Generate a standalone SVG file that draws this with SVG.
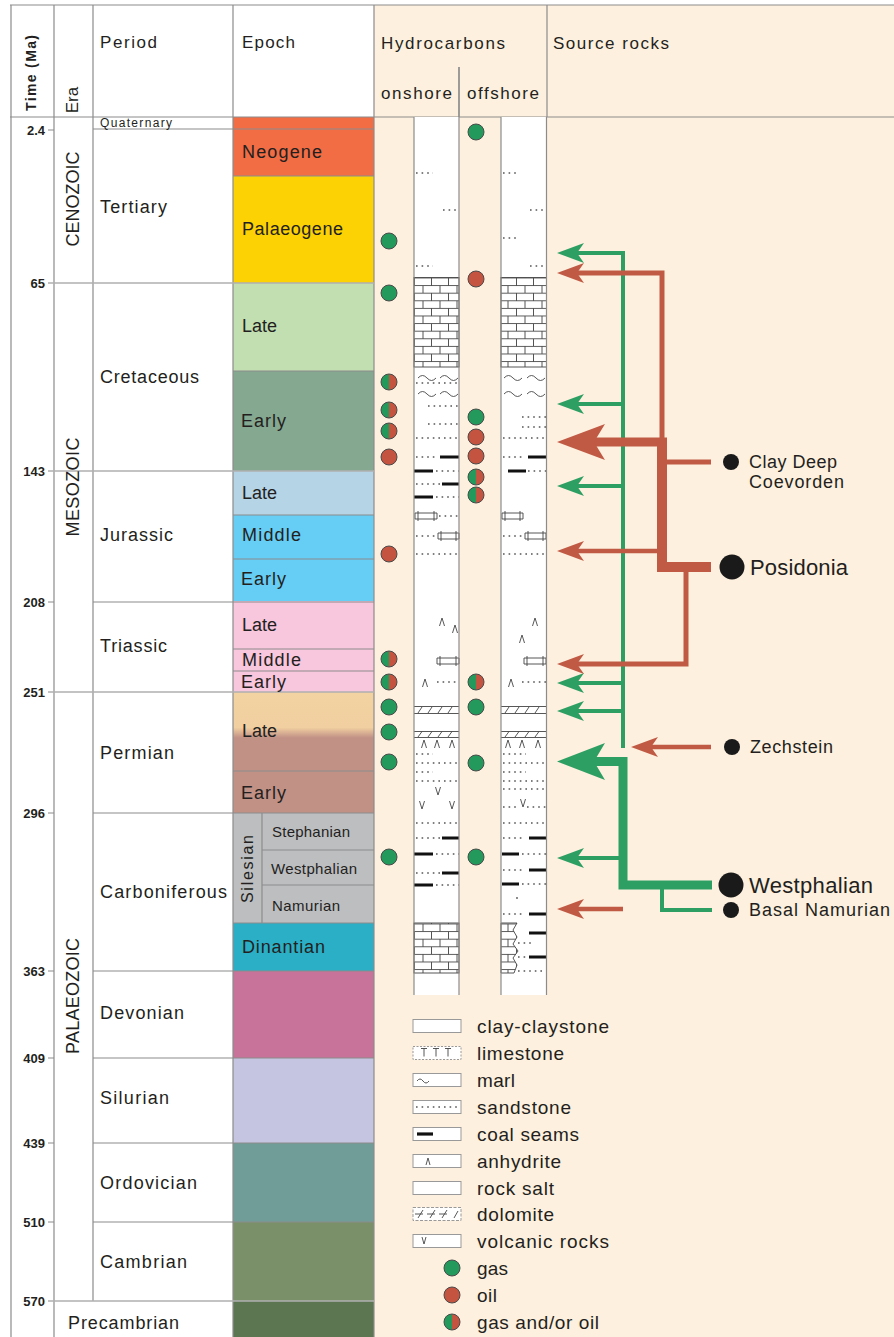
<svg xmlns="http://www.w3.org/2000/svg" width="894" height="1337" viewBox="0 0 894 1337">
<style>
text{font-family:"Liberation Sans",Arial,sans-serif;fill:#231f20}
.hd{font-size:17px}
.per{font-size:18px}
.ep{font-size:18px}
.sm{font-size:15px}
.tk{font-size:13px;font-weight:bold}
.era{font-size:18px}
.lg{font-size:19px}
.src{font-size:18px}
.srcb{font-size:22px}
.gl{stroke:#8c8c8c;stroke-width:1.2;fill:none}
.gl2{stroke:#b0b0b0;stroke-width:1.6;fill:none}
.sd{stroke:#555;stroke-width:1.6;stroke-dasharray:1.6 4;fill:none}
.coal{stroke:#111;stroke-width:3.2;fill:none}
.sym{stroke:#444;stroke-width:0.9;fill:none}
.gas{fill:#23995c;stroke:#4a4a4a;stroke-width:1}
.oil{fill:#c4533f;stroke:#4a4a4a;stroke-width:1}
.gn{stroke:#2e9f62;fill:none}
.rd{stroke:#c05a45;fill:none}
.gnh{fill:#2e9f62}
.rdh{fill:#c05a45}
.lgb{fill:#fff;stroke:#999;stroke-width:1}
.src-dot{fill:#1a1a1a}
</style>
<defs>
<pattern id="brick" patternUnits="userSpaceOnUse" x="414" y="277.5" width="17" height="15.2">
<rect width="17" height="15.2" fill="#fff"/>
<path d="M0,0.5H17M0,8.1H17M0.5,0.5V8.1M9,8.1V15.2" stroke="#444" stroke-width="0.9" fill="none"/>
</pattern>
<linearGradient id="perm" x1="0" y1="0" x2="0" y2="1">
<stop offset="0" stop-color="#f3d3a2"/>
<stop offset="0.45" stop-color="#f1cfa0"/>
<stop offset="0.58" stop-color="#c19186"/>
<stop offset="1" stop-color="#c19186"/>
</linearGradient>
<g id="dg"><circle r="8" class="gas"/></g>
<g id="do"><circle r="8" class="oil"/></g>
<g id="dm"><path d="M0,-8A8,8 0 0 0 0,8Z" fill="#23995c"/><path d="M0,-8A8,8 0 0 1 0,8Z" fill="#c4533f"/><circle r="8" fill="none" stroke="#4a4a4a" stroke-width="1"/></g>
</defs>

<rect x="0" y="0" width="894" height="1337" fill="#fff"/>
<rect x="374" y="5" width="520" height="1332" fill="#fdf0de"/>

<!-- Epoch colour bands -->
<g id="epoch-bands">
<rect x="233" y="117" width="141" height="59" fill="#f26c44"/>
<rect x="233" y="176" width="141" height="107" fill="#fcd205"/>
<rect x="233" y="283" width="141" height="88" fill="#c2dfb2"/>
<rect x="233" y="371" width="141" height="100" fill="#85a891"/>
<rect x="233" y="471" width="141" height="44" fill="#b5d4e6"/>
<rect x="233" y="515" width="141" height="86" fill="#66cdf4"/>
<rect x="233" y="601" width="141" height="91" fill="#f8c6dd"/>
<rect x="233" y="692" width="141" height="79" fill="url(#perm)"/>
<rect x="233" y="771" width="141" height="42" fill="#c19186"/>
<rect x="233" y="813" width="141" height="110" fill="#bdbec0"/>
<rect x="233" y="923" width="141" height="48" fill="#2aafc7"/>
<rect x="233" y="971" width="141" height="87" fill="#c87399"/>
<rect x="233" y="1058" width="141" height="85" fill="#c5c5e1"/>
<rect x="233" y="1143" width="141" height="79" fill="#709d97"/>
<rect x="233" y="1222" width="141" height="79" fill="#7a9068"/>
<rect x="233" y="1301" width="141" height="36" fill="#5b7650"/>
</g>

<!-- Grid lines -->
<g id="grid">
<path class="gl" d="M10,5H894M10,117H894M11,5V1337M54,5V1337M93,5V1301M233,5V1337M374,5V1337M547,5V117M459,67V117"/>
<path class="gl" d="M93,129H374M233,176H374M233,371H374M233,515H374M233,559H374M93,602H374M233,649H374M233,671H374M233,771H374M93,813H374M262,850H374M262,885H374M233,923H374M93,971H374M93,1058H374M93,1143H374M93,1222H374M262,813V923"/>
<path class="gl2" d="M48,283H374M48,471H374M48,692H374M48,1301H374"/>
<path class="gl" d="M48,130H54M48,602H54M48,813H54M48,971H54M48,1058H54M48,1143H54M48,1222H54"/>
</g>

<!-- Header -->
<g id="header">
<text class="tk" transform="translate(31,73) rotate(-90)" text-anchor="middle" dominant-baseline="central" style="font-size:14px" textLength="76" lengthAdjust="spacing">Time (Ma)</text>
<text transform="translate(72,100) rotate(-90)" text-anchor="middle" dominant-baseline="central" style="font-size:17px">Era</text>
<text class="hd" x="100" y="42" dominant-baseline="central" textLength="57" lengthAdjust="spacing">Period</text>
<text class="hd" x="242" y="42" dominant-baseline="central" textLength="53" lengthAdjust="spacing">Epoch</text>
<text class="hd" x="381" y="43" dominant-baseline="central" textLength="124" lengthAdjust="spacing">Hydrocarbons</text>
<text class="hd" x="553" y="43" dominant-baseline="central" textLength="116" lengthAdjust="spacing">Source rocks</text>
<text class="hd" x="381" y="93" dominant-baseline="central" textLength="71" lengthAdjust="spacing">onshore</text>
<text class="hd" x="467" y="93" dominant-baseline="central" textLength="72" lengthAdjust="spacing">offshore</text>
</g>

<!-- Time ticks -->
<g id="time-labels">
<text class="tk" x="45" y="130" text-anchor="end" dominant-baseline="central">2.4</text>
<text class="tk" x="45" y="283" text-anchor="end" dominant-baseline="central">65</text>
<text class="tk" x="45" y="471" text-anchor="end" dominant-baseline="central">143</text>
<text class="tk" x="45" y="602" text-anchor="end" dominant-baseline="central">208</text>
<text class="tk" x="45" y="692" text-anchor="end" dominant-baseline="central">251</text>
<text class="tk" x="45" y="813" text-anchor="end" dominant-baseline="central">296</text>
<text class="tk" x="45" y="971" text-anchor="end" dominant-baseline="central">363</text>
<text class="tk" x="45" y="1058" text-anchor="end" dominant-baseline="central">409</text>
<text class="tk" x="45" y="1143" text-anchor="end" dominant-baseline="central">439</text>
<text class="tk" x="45" y="1222" text-anchor="end" dominant-baseline="central">510</text>
<text class="tk" x="45" y="1301" text-anchor="end" dominant-baseline="central">570</text>
</g>

<!-- Eras -->
<g id="eras">
<text class="era" transform="translate(73,199) rotate(-90)" text-anchor="middle" dominant-baseline="central" textLength="95" lengthAdjust="spacing">CENOZOIC</text>
<text class="era" transform="translate(73,487) rotate(-90)" text-anchor="middle" dominant-baseline="central" textLength="99" lengthAdjust="spacing">MESOZOIC</text>
<text class="era" transform="translate(73,996) rotate(-90)" text-anchor="middle" dominant-baseline="central" textLength="116" lengthAdjust="spacing">PALAEOZOIC</text>
</g>

<!-- Periods -->
<g id="periods">
<text x="100" y="123" dominant-baseline="central" style="font-size:12px" textLength="72" lengthAdjust="spacing">Quaternary</text>
<text class="per" x="100" y="207" dominant-baseline="central" textLength="67" lengthAdjust="spacing">Tertiary</text>
<text class="per" x="100" y="377" dominant-baseline="central" textLength="99" lengthAdjust="spacing">Cretaceous</text>
<text class="per" x="100" y="535" dominant-baseline="central" textLength="73" lengthAdjust="spacing">Jurassic</text>
<text class="per" x="100" y="646" dominant-baseline="central" textLength="67" lengthAdjust="spacing">Triassic</text>
<text class="per" x="100" y="753" dominant-baseline="central" textLength="74" lengthAdjust="spacing">Permian</text>
<text class="per" x="100" y="892" dominant-baseline="central" textLength="127" lengthAdjust="spacing">Carboniferous</text>
<text class="per" x="100" y="1013" dominant-baseline="central" textLength="84" lengthAdjust="spacing">Devonian</text>
<text class="per" x="100" y="1098" dominant-baseline="central" textLength="69" lengthAdjust="spacing">Silurian</text>
<text class="per" x="100" y="1183" dominant-baseline="central" textLength="97" lengthAdjust="spacing">Ordovician</text>
<text class="per" x="100" y="1262" dominant-baseline="central" textLength="87" lengthAdjust="spacing">Cambrian</text>
<text class="per" x="68" y="1323" dominant-baseline="central" textLength="111" lengthAdjust="spacing">Precambrian</text>
</g>

<!-- Epochs -->
<g id="epochs">
<text class="ep" x="242" y="152" dominant-baseline="central" textLength="80" lengthAdjust="spacing">Neogene</text>
<text class="ep" x="242" y="229" dominant-baseline="central" textLength="101" lengthAdjust="spacing">Palaeogene</text>
<text class="ep" x="242" y="326" dominant-baseline="central" textLength="35" lengthAdjust="spacing">Late</text>
<text class="ep" x="241" y="421" dominant-baseline="central" textLength="45" lengthAdjust="spacing">Early</text>
<text class="ep" x="242" y="493" dominant-baseline="central" textLength="35" lengthAdjust="spacing">Late</text>
<text class="ep" x="242" y="535" dominant-baseline="central" textLength="59" lengthAdjust="spacing">Middle</text>
<text class="ep" x="241" y="579" dominant-baseline="central" textLength="45" lengthAdjust="spacing">Early</text>
<text class="ep" x="242" y="625" dominant-baseline="central" textLength="35" lengthAdjust="spacing">Late</text>
<text class="ep" x="242" y="660" dominant-baseline="central" textLength="59" lengthAdjust="spacing">Middle</text>
<text class="ep" x="241" y="682" dominant-baseline="central" textLength="45" lengthAdjust="spacing">Early</text>
<text class="ep" x="242" y="731" dominant-baseline="central" textLength="35" lengthAdjust="spacing">Late</text>
<text class="ep" x="241" y="793" dominant-baseline="central" textLength="45" lengthAdjust="spacing">Early</text>
<text transform="translate(247,869) rotate(-90)" text-anchor="middle" dominant-baseline="central" style="font-size:16px" textLength="68" lengthAdjust="spacing">Silesian</text>
<text class="sm" x="272" y="831" dominant-baseline="central" textLength="78" lengthAdjust="spacing">Stephanian</text>
<text class="sm" x="271" y="868" dominant-baseline="central" textLength="86" lengthAdjust="spacing">Westphalian</text>
<text class="sm" x="272" y="905" dominant-baseline="central" textLength="68" lengthAdjust="spacing">Namurian</text>
<text class="ep" x="242" y="947" dominant-baseline="central" textLength="83" lengthAdjust="spacing">Dinantian</text>
</g>

<!-- Lithology onshore -->
<g id="litho-onshore">
<rect x="414" y="117" width="45" height="878" fill="#fff"/>
<rect x="414" y="277.5" width="45" height="89.5" fill="url(#brick)" stroke="#444" stroke-width="0.9"/>
<rect x="414" y="923" width="45" height="50" fill="url(#brick)" stroke="#444" stroke-width="0.9"/>
<path class="sd" d="M416,173H433M443,210H459M416,266H433M416,383H459M428,406H459M428,424H459M416,438H459M416,457H438M436,471H459M416,484H440M436,497H459M439,516H459M416,536H437M416,554H459M437,682H459M416,754H433M416,763H459M416,772H433M416,781H459M416,823H459M416,838H440M436,854H459M416,873H440M436,885H459"/>
<path class="coal" d="M440,457H459M414,471H433M442,484H459M414,497H433M442,838H459M414,854H433M442,873H459M414,885H433"/>
<path class="sym" stroke-width="1.3" d="M418,378q4.5,-5 9,0t9,0M440,378q4.5,-5 9,0t9,0M418,394q4.5,-5 9,0t9,0M440,394q4.5,-5 9,0t9,0"/>
<path class="sym" d="M415,513h22v6h-22zM418,511v10M434,511v10M438,533h21v6h-21zM441,531v10M456,531v10M437,658h22v6h-22zM440,656v10M456,656v10"/>
<path class="sym" d="M439.5,626l2.5,-8l2.5,8M452.5,633l2.5,-8l2.5,8M422.5,687l2.5,-8l2.5,8M421.5,748l2.5,-8l2.5,8M434.5,748l2.5,-8l2.5,8M449.5,748l2.5,-8l2.5,8"/>
<path class="sym" d="M435.5,787l2.5,8l2.5,-8M419.5,801l2.5,8l2.5,-8M449.5,801l2.5,8l2.5,-8"/>
<path class="sym" d="M414,706.5H459M414,713.5H459M418,713l4,-6M428,713l4,-6M438,713l4,-6M448,713l4,-6M414,731.5H459M414,737.5H459M418,737l4,-5.5M428,737l4,-5.5M438,737l4,-5.5M448,737l4,-5.5"/>
</g>

<!-- Lithology offshore -->
<g id="litho-offshore">
<rect x="501" y="117" width="45.5" height="878" fill="#fff"/>
<rect x="501" y="277.5" width="45.5" height="89.5" fill="url(#brick)" stroke="#444" stroke-width="0.9"/>
<path d="M501,923H517L513,930L517,937L513,944L518,951L513,958L517,965L514,973H501Z" fill="url(#brick)" stroke="#444" stroke-width="0.9"/>
<path class="sd" d="M503,173H519M530,210H546M503,238H519M530,266H546M522,417H546M522,427H546M503,438H546M503,457H525M528,471H546M503,536H523M503,554H546M522,682H546M503,754H526M503,763H546M503,772H526M503,781H546M503,789H546M503,807H519M527,807H546M503,823H546M503,838H525M522,854H546M503,870H525M522,884H546M503,914H525M518,943H533M518,957H527M518,971H546"/>
<circle cx="517" cy="898" r="0.9" fill="#555"/>
<path class="coal" d="M528,457H546M508,471H526M529,838H546M502,854H519M529,870H546M502,884H519M529,914H546M529,933H546M529,957H546"/>
<path class="sym" stroke-width="1.3" d="M504,378q4.5,-5 9,0t9,0M527,378q4.5,-5 9,0t9,0M504,394q4.5,-5 9,0t9,0M527,394q4.5,-5 9,0t9,0"/>
<path class="sym" d="M502,513h21v6h-21zM505,511v10M520,511v10M525,533h21v6h-21zM528,531v10M543,531v10M524,658h22v6h-22zM527,656v10M543,656v10"/>
<path class="sym" d="M532.5,626l2.5,-8l2.5,8M519.5,643l2.5,-8l2.5,8M508.5,687l2.5,-8l2.5,8M505.5,748l2.5,-8l2.5,8M519.5,748l2.5,-8l2.5,8M535.5,748l2.5,-8l2.5,8"/>
<path class="sym" d="M520.5,799l2.5,8l2.5,-8"/>
<path class="sym" d="M501,706.5H546M501,713.5H546M505,713l4,-6M515,713l4,-6M525,713l4,-6M535,713l4,-6M501,731.5H546M501,737.5H546M505,737l4,-5.5M515,737l4,-5.5M525,737l4,-5.5M535,737l4,-5.5"/>
</g>
<path class="gl" d="M414,117V995M459,67V995M501,117V995M546.5,117V995"/>

<!-- Hydrocarbon occurrences -->
<g id="hc-onshore">
<use href="#dg" x="389" y="241"/>
<use href="#dg" x="389" y="293"/>
<use href="#dm" x="389" y="382"/>
<use href="#dm" x="389" y="410"/>
<use href="#dm" x="389" y="431"/>
<use href="#do" x="389" y="457"/>
<use href="#do" x="389" y="554"/>
<use href="#dm" x="389" y="659"/>
<use href="#dm" x="389" y="682"/>
<use href="#dg" x="389" y="707"/>
<use href="#dg" x="389" y="732"/>
<use href="#dg" x="389" y="762"/>
<use href="#dg" x="389" y="857"/>
</g>
<g id="hc-offshore">
<use href="#dg" x="476" y="132"/>
<use href="#do" x="476" y="279"/>
<use href="#dg" x="476" y="417"/>
<use href="#do" x="476" y="437"/>
<use href="#do" x="476" y="456"/>
<use href="#dm" x="476" y="477"/>
<use href="#dm" x="476" y="495"/>
<use href="#dm" x="476" y="682"/>
<use href="#dg" x="476" y="707"/>
<use href="#dg" x="476" y="763"/>
<use href="#dg" x="476" y="857"/>
</g>

<!-- Connectors -->
<g id="connectors">
<g id="green-paths">
<path class="gn" stroke-width="4" d="M623,251V748"/>
<path class="gn" stroke-width="4" d="M575,253H625M575,404H623M575,486H623M575,683H623M575,711H623M575,858H620"/>
<path class="gn" stroke-width="9" d="M590,761.5H623V885H712"/>
<path class="gn" stroke-width="4" d="M662,885V910H712"/>
<path class="gnh" d="M557,253L584,243L577,253L584,263ZM557,404L584,394L577,404L584,414ZM557,486L584,476L577,486L584,496ZM557,683L584,673L577,683L584,693ZM557,711L584,701L577,711L584,721ZM557,858L584,848L577,858L584,868ZM557,761.5L605,743L594,761.5L605,780Z"/>
</g>
<g id="red-paths">
<path class="rd" stroke-width="5" d="M575,273H662V442"/>
<path class="rd" stroke-width="9" d="M590,442H667"/>
<path class="rd" stroke-width="10" d="M662,438V567H711"/>
<path class="rd" stroke-width="5" d="M662,462H711"/>
<path class="rd" stroke-width="4.5" d="M575,551H662"/>
<path class="rd" stroke-width="5" d="M686,567V664H575"/>
<path class="rd" stroke-width="4.5" d="M649,747H711M575,909H623"/>
<path class="rdh" d="M557,273L584,263L577,273L584,283ZM557,551L584,541L577,551L584,561ZM557,664L584,654L577,664L584,674ZM557,909L584,899L577,909L584,919ZM631,747L658,737L651,747L658,757ZM557,442L605,424L594,442L605,460Z"/>
</g>
</g>

<!-- Source rocks -->
<g id="src-claydeep">
<circle class="src-dot" cx="731" cy="462" r="8"/>
<text class="src" x="749" y="462" dominant-baseline="central" textLength="88" lengthAdjust="spacing">Clay Deep</text>
<text class="src" x="749" y="482" dominant-baseline="central" textLength="95" lengthAdjust="spacing">Coevorden</text>
</g>
<g id="src-posidonia">
<circle class="src-dot" cx="732" cy="567" r="12.5"/>
<text class="srcb" x="750" y="567" dominant-baseline="central" textLength="98" lengthAdjust="spacing">Posidonia</text>
</g>
<g id="src-zechstein">
<circle class="src-dot" cx="732" cy="747" r="8"/>
<text class="src" x="750" y="747" dominant-baseline="central" textLength="83" lengthAdjust="spacing">Zechstein</text>
</g>
<g id="src-westphalian">
<circle class="src-dot" cx="731" cy="885" r="12.5"/>
<text class="srcb" x="749" y="885" dominant-baseline="central" textLength="124" lengthAdjust="spacing">Westphalian</text>
</g>
<g id="src-basalnamurian">
<circle class="src-dot" cx="731" cy="910" r="8"/>
<text class="src" x="749" y="910" dominant-baseline="central" textLength="141" lengthAdjust="spacing">Basal Namurian</text>
</g>

<!-- Legend -->
<g id="legend">
<rect class="lgb" x="413" y="1019.5" width="48" height="13"/>
<rect class="lgb" x="413" y="1046.5" width="48" height="13" stroke-dasharray="2 1.5"/>
<path class="sym" d="M421,1048.5h6M424,1048.5v8M433,1048.5h6M436,1048.5v8M445,1048.5h6M448,1048.5v8"/>
<rect class="lgb" x="413" y="1073.5" width="48" height="13"/>
<path class="sym" stroke-width="1.2" d="M417,1081q3,-4 6,0t6,0"/>
<rect class="lgb" x="413" y="1100.5" width="48" height="13"/>
<path class="sd" stroke-width="1.3" d="M416,1107H459"/>
<rect class="lgb" x="413" y="1127.5" width="48" height="13"/>
<path class="coal" stroke-width="3" d="M417,1134H433"/>
<rect class="lgb" x="413" y="1154.5" width="48" height="13"/>
<path class="sym" d="M426,1165l2,-7l2,7"/>
<rect class="lgb" x="413" y="1181.5" width="48" height="13"/>
<rect class="lgb" x="413" y="1207.5" width="48" height="13" stroke-dasharray="3 1.5"/>
<path class="sym" d="M418,1218l5,-8M430,1218l5,-8M442,1218l5,-8M454,1218l4,-7M415,1214h8M427,1214h8M439,1214h8"/>
<rect class="lgb" x="413" y="1234.5" width="48" height="13"/>
<path class="sym" d="M422,1237l2,7l2,-7"/>
<use href="#dg" x="452" y="1268"/>
<use href="#do" x="452" y="1295"/>
<use href="#dm" x="452" y="1322"/>
<text class="lg" x="477" y="1026" dominant-baseline="central" textLength="132" lengthAdjust="spacing">clay-claystone</text>
<text class="lg" x="477" y="1053" dominant-baseline="central" textLength="87" lengthAdjust="spacing">limestone</text>
<text class="lg" x="477" y="1080" dominant-baseline="central" textLength="38" lengthAdjust="spacing">marl</text>
<text class="lg" x="477" y="1107" dominant-baseline="central" textLength="94" lengthAdjust="spacing">sandstone</text>
<text class="lg" x="477" y="1134" dominant-baseline="central" textLength="102" lengthAdjust="spacing">coal seams</text>
<text class="lg" x="477" y="1161" dominant-baseline="central" textLength="84" lengthAdjust="spacing">anhydrite</text>
<text class="lg" x="477" y="1188" dominant-baseline="central" textLength="77" lengthAdjust="spacing">rock salt</text>
<text class="lg" x="477" y="1214" dominant-baseline="central" textLength="77" lengthAdjust="spacing">dolomite</text>
<text class="lg" x="477" y="1241" dominant-baseline="central" textLength="132" lengthAdjust="spacing">volcanic rocks</text>
<text class="lg" x="477" y="1268" dominant-baseline="central" textLength="31" lengthAdjust="spacing">gas</text>
<text class="lg" x="477" y="1295" dominant-baseline="central" textLength="20" lengthAdjust="spacing">oil</text>
<text class="lg" x="477" y="1322" dominant-baseline="central" textLength="122" lengthAdjust="spacing">gas and/or oil</text>
</g>
</svg>
